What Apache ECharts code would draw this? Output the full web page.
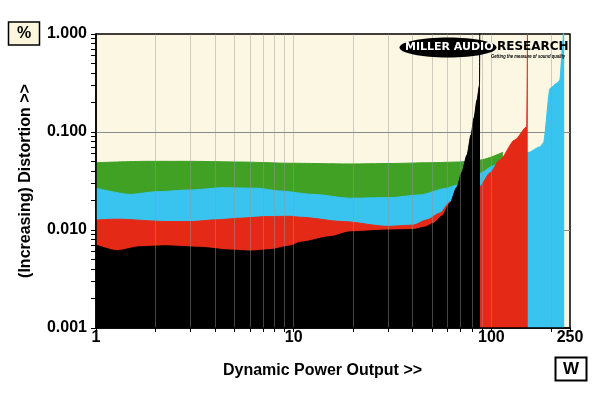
<!DOCTYPE html>
<html><head><meta charset="utf-8">
<script src="https://cdn.jsdelivr.net/npm/echarts@6/dist/echarts.min.js"></script>
<style>html,body{margin:0;padding:0;background:#fff}#c{width:600px;height:393px}</style>
</head><body><div id="c"></div>
<script>
// Power (W) and distortion (%) for each trace
const greenPower = [1, 1.81, 2.99, 5.34, 9.58, 19.3, 30.7, 48.8, 69.5, 87.5, 114.4];
const greenTHD   = [0.0486, 0.0502, 0.0502, 0.0494, 0.0480, 0.0472, 0.0477, 0.0486, 0.0494, 0.0517, 0.0621];

const cyanPower = [1, 1.49, 2.03, 2.99, 4.39, 6.52, 8.52, 12.5, 19.3, 30.7, 43.5, 59.5, 67.0, 87.5, 101.8, 114.4, 131.5, 153.2, 176.5, 183.4, 198.3, 214.3, 222, 230.5, 233.7];
const cyanTHD   = [0.0267, 0.0231, 0.0246, 0.0256, 0.0270, 0.0267, 0.0250, 0.0231, 0.0211, 0.0214, 0.0228, 0.0267, 0.0288, 0.0378, 0.0450, 0.0506, 0.0555, 0.0615, 0.0708, 0.0774, 0.279, 0.314, 0.339, 0.868, 3];

const redPower = [1, 1.28, 2.28, 2.99, 4.09, 5.34, 7.33, 9.58, 10.8, 17.8, 29.6, 40.2, 47.2, 55.0, 61.8, 73.5, 87.5, 98.3, 110.4, 131.5, 151, 152.8];
const redTHD   = [0.01265, 0.0129, 0.0122, 0.0122, 0.0127, 0.0132, 0.0137, 0.0138, 0.0135, 0.0122, 0.0109, 0.0112, 0.0127, 0.0149, 0.0193, 0.0233, 0.0277, 0.0382, 0.0518, 0.0830, 0.113, 3];

const blackPower = [1, 1.28, 1.67, 2.23, 3.36, 4.76, 6.01, 7.59, 9.58, 10.8, 15.3, 19.3, 30.7, 40.2, 46.1, 50.9, 56.3, 61.8, 67.0, 71.0, 75.3, 78.9, 81.7, 84.6, 87.1, 87.6];
const blackTHD   = [0.00703, 0.00615, 0.00676, 0.0069, 0.00666, 0.00625, 0.0061, 0.0063, 0.00687, 0.0075, 0.00855, 0.0096, 0.0100, 0.0101, 0.0107, 0.0117, 0.0139, 0.0188, 0.0275, 0.0391, 0.0583, 0.0932, 0.139, 0.212, 0.30, 3];

// Axis ticks / labels
const xTickLabels = [1, 10, 100, 250];
const xMinorTicks = [1,2,3,4,5,6,7,8,9,10,20,30,40,50,60,70,80,90,100,200,250];
const xGridLines  = [2,3,4,5,6,7,8,9,10,20,30,40,50,60,70,80,90,100,200];
const yTickLabels = [0.001, 0.01, 0.1, 1];
const yMinorTicks = [0.001,0.002,0.003,0.004,0.005,0.006,0.007,0.008,0.009,0.01,0.02,0.03,0.04,0.05,0.06,0.07,0.08,0.09,0.1,0.2,0.3,0.4,0.5,0.6,0.7,0.8,0.9,1];
const yGridLines  = [0.01, 0.1];

const zip = (xs, ys) => xs.map((x, i) => [x, ys[i]]);
const FONT = '"Liberation Sans", Arial, sans-serif';
const LOGO = '"DejaVu Sans", sans-serif';

function areaSeries(name, data, color, z) {
  return {
    name, type: 'line', data, symbol: 'none', showSymbol: false, smooth: 0.25, smoothMonotone: 'x',
    clip: true, z,
    lineStyle: { color, width: 1 },
    areaStyle: { color, opacity: 1, origin: 'start' },
    silent: true
  };
}

const chart = echarts.init(document.getElementById('c'), null, { renderer: 'canvas' });
chart.setOption({
  animation: false,
  backgroundColor: '#ffffff',
  grid: { left: 96, right: 30, top: 34, bottom: 65, show: true, backgroundColor: '#FBF7E2',
          borderColor: '#000', borderWidth: 1.5, containLabel: false, outerBoundsMode: 'none' },
  xAxis: {
    type: 'log', logBase: 10, min: 1, max: 250, z: 9,
    name: 'Dynamic Power Output >>', nameLocation: 'middle', nameGap: 35,
    nameTextStyle: { fontFamily: FONT, fontWeight: 'bold', fontSize: 16, color: '#000', padding: [0, 21, 0, 0] },
    axisLine: { lineStyle: { color: '#000', width: 1.5 } },
    axisTick: { show: true, customValues: xMinorTicks, length: 4, lineStyle: { color: '#000', width: 1 } },
    axisLabel: { customValues: xTickLabels, margin: 2, fontFamily: FONT, fontWeight: 'bold', fontSize: 16, color: '#000',
                 formatter: v => String(Math.round(v)) },
    splitLine: { show: false }, minorTick: { show: false }
  },
  yAxis: {
    type: 'log', logBase: 10, min: 0.001, max: 1, z: 9,
    name: '(Increasing) Distortion >>', nameLocation: 'middle', nameGap: 62, nameRotate: 90,
    nameTextStyle: { fontFamily: FONT, fontWeight: 'bold', fontSize: 16, color: '#000' },
    axisLine: { lineStyle: { color: '#000', width: 1.5 } },
    axisTick: { show: true, customValues: yMinorTicks, length: 5, lineStyle: { color: '#000', width: 1 } },
    axisLabel: { customValues: yTickLabels, margin: 9, fontFamily: FONT, fontWeight: 'bold', fontSize: 16, color: '#000',
                 formatter: v => Number(v).toFixed(3) },
    splitLine: { show: false }, minorTick: { show: false }
  },
  series: [
    {
      name: 'hgrid', type: 'line', data: [[1, 0.001]], symbol: 'none', lineStyle: { opacity: 0 }, z: 1, silent: true,
      markLine: { z: 1, silent: true, symbol: ['none', 'none'], label: { show: false }, animation: false,
        lineStyle: { color: '#8c8c8c', width: 1, type: 'solid' },
        data: yGridLines.map(v => ({ yAxis: v })) }
    },
    areaSeries('green', zip(greenPower, greenTHD), '#41A125', 2),
    areaSeries('cyan', zip(cyanPower, cyanTHD), '#38C4EF', 3),
    areaSeries('red', zip(redPower, redTHD), '#E42A16', 4),
    areaSeries('black', zip(blackPower, blackTHD), '#000000', 5),
    {
      name: 'vgrid', type: 'line', data: [[1, 0.001]], symbol: 'none', lineStyle: { opacity: 0 }, z: 8, silent: true,
      markLine: { z: 8, silent: true, symbol: ['none', 'none'], label: { show: false }, animation: false,
        lineStyle: { color: 'rgba(150,150,150,0.45)', width: 1, type: 'solid' },
        data: xGridLines.map(v => ({ xAxis: v })) }
    }
  ],
  graphic: [
    { type: 'rect', shape: { x: 8.5, y: 22, width: 31, height: 23 }, style: { fill: '#FBF6DC', stroke: '#000', lineWidth: 1.5 }, z: 10 },
    { type: 'text', x: 24, y: 34, style: { text: '%', fill: '#000', font: 'bold 16px ' + FONT, align: 'center', verticalAlign: 'middle' }, z: 11 },
    { type: 'rect', shape: { x: 555.5, y: 357.5, width: 31, height: 23 }, style: { fill: '#fff', stroke: '#000', lineWidth: 2 }, z: 10 },
    { type: 'text', x: 571, y: 369.5, style: { text: 'W', fill: '#000', font: 'bold 17px ' + FONT, align: 'center', verticalAlign: 'middle' }, z: 11 },
    { type: 'ellipse', shape: { cx: 448, cy: 47.5, rx: 48.5, ry: 10 }, style: { fill: '#000' }, z: 12 },
    { type: 'text', x: 405, y: 47.5, style: { text: 'MILLER AUDIO', fill: '#fff', font: 'bold 11px ' + LOGO, align: 'left', verticalAlign: 'middle' }, z: 13 },
    { type: 'text', x: 497, y: 46.5, style: { text: 'RESEARCH', fill: '#000', font: 'bold 12px ' + LOGO, align: 'left', verticalAlign: 'middle' }, z: 13 },
    { type: 'text', x: 491, y: 56, scaleX: 0.7, style: { text: 'Getting the measure of sound quality', fill: '#000', font: 'italic bold 6px ' + FONT, align: 'left', verticalAlign: 'middle' }, z: 13 }
  ]
});
</script>
</body></html>
